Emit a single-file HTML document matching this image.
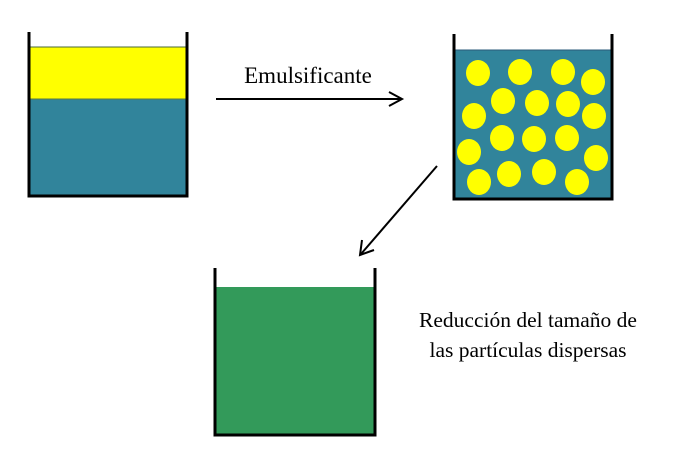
<!DOCTYPE html>
<html><head><style>body{margin:0;background:#fff}</style></head><body>
<svg width="692" height="461" xmlns="http://www.w3.org/2000/svg" font-family="Liberation Serif, serif">
<rect x="29" y="47" width="157" height="52" fill="#ffff00"/>
<line x1="29" y1="47" x2="186" y2="47" stroke="#4a6a3a" stroke-width="1"/>
<rect x="29" y="99" width="157" height="96" fill="#31849b"/>
<line x1="29" y1="99" x2="186" y2="99" stroke="#5a7a40" stroke-width="1"/>
<path d="M29,32 V196 H187 V32" fill="none" stroke="#000" stroke-width="3"/>
<rect x="455" y="50" width="156" height="148" fill="#31849b"/>
<line x1="455" y1="50" x2="611" y2="50" stroke="#2a5a7a" stroke-width="1"/>
<g fill="#ffff00">
<ellipse cx="478" cy="73" rx="12" ry="13"/><ellipse cx="520" cy="72" rx="12" ry="13"/>
<ellipse cx="563" cy="72" rx="12" ry="13"/><ellipse cx="593" cy="82" rx="12" ry="13"/>
<ellipse cx="503" cy="101" rx="12" ry="13"/><ellipse cx="537" cy="103" rx="12" ry="13"/>
<ellipse cx="568" cy="104" rx="12" ry="13"/><ellipse cx="594" cy="116" rx="12" ry="13"/>
<ellipse cx="474" cy="116" rx="12" ry="13"/><ellipse cx="502" cy="138" rx="12" ry="13"/>
<ellipse cx="534" cy="139" rx="12" ry="13"/><ellipse cx="567" cy="138" rx="12" ry="13"/>
<ellipse cx="469" cy="152" rx="12" ry="13"/><ellipse cx="596" cy="158" rx="12" ry="13"/>
<ellipse cx="479" cy="182" rx="12" ry="13"/><ellipse cx="509" cy="174" rx="12" ry="13"/>
<ellipse cx="544" cy="172" rx="12" ry="13"/><ellipse cx="577" cy="182" rx="12" ry="13"/>
</g>
<path d="M454,34 V199 H612 V34" fill="none" stroke="#000" stroke-width="3"/>
<rect x="215" y="287" width="159" height="147" fill="#339a5a"/>
<path d="M215,268 V435 H375 V268" fill="none" stroke="#000" stroke-width="3"/>
<line x1="216" y1="99" x2="400" y2="99" stroke="#000" stroke-width="2"/>
<path d="M389,92 L402,99 L389,106" fill="none" stroke="#000" stroke-width="2"/>
<line x1="437" y1="166" x2="361" y2="254" stroke="#000" stroke-width="2"/>
<path d="M362,240 L360,255 L374,250" fill="none" stroke="#000" stroke-width="2"/>
<text x="308" y="83" font-size="23" text-anchor="middle">Emulsificante</text>
<text x="528" y="327" font-size="21.5" text-anchor="middle">Reducción del tamaño de</text>
<text x="528" y="357" font-size="21.5" text-anchor="middle">las partículas dispersas</text>
</svg>
</body></html>
